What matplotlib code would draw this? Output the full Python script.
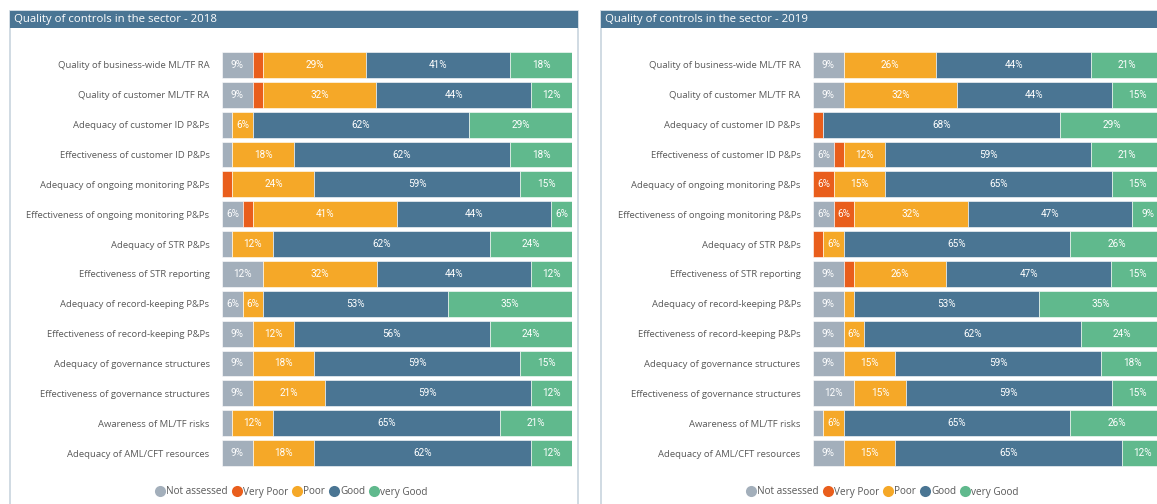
import matplotlib.pyplot as plt
from matplotlib.patches import Rectangle
from matplotlib.lines import Line2D

W, H = 1157, 504

categories = [
    "Quality of business-wide ML/TF RA",
    "Quality of customer ML/TF RA",
    "Adequacy of customer ID P&Ps",
    "Effectiveness of customer ID P&Ps",
    "Adequacy of ongoing monitoring P&Ps",
    "Effectiveness of ongoing monitoring P&Ps",
    "Adequacy of STR P&Ps",
    "Effectiveness of STR reporting",
    "Adequacy of record-keeping P&Ps",
    "Effectiveness of record-keeping P&Ps",
    "Adequacy of governance structures",
    "Effectiveness of governance structures",
    "Awareness of ML/TF risks",
    "Adequacy of AML/CFT resources",
]
levels = ["Not assessed", "Very Poor", "Poor", "Good", "very Good"]
colors = ["#A3AFBB", "#E95E1C", "#F5A828", "#4A7593", "#60B98D"]

# 2018 - percentages per level
na_2018 = [8.8, 8.8, 2.9, 2.9, 0, 5.9, 2.9, 11.8, 5.9, 8.8, 8.8, 8.8, 2.9, 8.8]
vp_2018 = [2.9, 2.9, 0, 0, 2.9, 2.9, 0, 0, 0, 0, 0, 0, 0, 0]
poor_2018 = [29.4, 32.4, 5.9, 17.6, 23.5, 41.2, 11.8, 32.4, 5.9, 11.8, 17.6, 20.6, 11.8, 17.6]
good_2018 = [41.2, 44.1, 61.8, 61.8, 58.8, 44.1, 61.8, 44.1, 52.9, 55.9, 58.8, 58.8, 64.7, 61.8]
vgood_2018 = [17.6, 11.8, 29.4, 17.6, 14.7, 5.9, 23.5, 11.8, 35.3, 23.5, 14.7, 11.8, 20.6, 11.8]

# 2019
na_2019 = [8.8, 8.8, 0, 5.9, 0, 5.9, 0, 8.8, 8.8, 8.8, 8.8, 11.8, 2.9, 8.8]
vp_2019 = [0, 0, 2.9, 2.9, 5.9, 5.9, 2.9, 2.9, 0, 0, 0, 0, 0, 0]
poor_2019 = [26.4, 32.4, 0, 11.8, 14.7, 32.4, 5.9, 26.4, 2.9, 5.9, 14.7, 14.7, 5.9, 14.7]
good_2019 = [44.1, 44.1, 67.6, 58.8, 64.7, 47.1, 64.7, 47.1, 52.9, 61.8, 58.8, 58.8, 64.7, 64.7]
vgood_2019 = [20.6, 14.7, 29.4, 20.6, 14.7, 8.8, 26.5, 14.7, 35.3, 23.5, 17.6, 14.7, 26.5, 11.8]

plt.rcParams['font.family'] = ['Open Sans', 'DejaVu Sans']

fig = plt.figure(figsize=(W / 100, H / 100), dpi=100)


def px(x, y, w, h):
    # pixel box (top-left origin) -> figure fraction
    return [x / W, 1 - (y + h) / H, w / W, h / H]


def panel(x0, title, series, bar_x):
    # frame + title bar
    fig.patches.append(Rectangle((x0 / W, -0.05), 568 / W, 1 - 11 / H + 0.05,
                                 transform=fig.transFigure, fill=False,
                                 edgecolor="#C8D4DE", lw=1.2))
    fig.patches.append(Rectangle((x0 / W, 1 - 28 / H), 568 / W, 17 / H,
                                 transform=fig.transFigure, facecolor="#4A7594",
                                 edgecolor="none"))
    fig.text((x0 + 4) / W, 1 - 19.5 / H, title, color="white", fontsize=8.2,
             va="center", ha="left")

    ax = fig.add_axes(px(bar_x, 50, 350, 418))
    n = len(categories)
    ypos = list(range(n))
    left = [0] * n
    for k in range(len(levels)):
        vals = series[k]
        tot = [sum(s[i] for s in series) for i in range(n)]
        w = [vals[i] / tot[i] * 100 for i in range(n)]
        ax.barh(ypos, w, left=left, height=0.87, color=colors[k],
                edgecolor="white", linewidth=0.4)
        for i in range(n):
            if vals[i] >= 5:
                ax.text(left[i] + w[i] / 2, i, f"{vals[i]:.0f}%", color="white",
                        fontsize=7.2, ha="center", va="center", family="Roboto")
        left = [left[i] + w[i] for i in range(n)]
    ax.set_xlim(0, 100)
    ax.set_ylim(n - 0.5, -0.5)
    ax.set_yticks(ypos)
    ax.set_yticklabels(categories, fontsize=6.8, color="#595959")
    ax.tick_params(axis="y", length=0, pad=9)
    ax.set_xticks([])
    for s in ax.spines.values():
        s.set_visible(False)
    ax.patch.set_alpha(0)

    handles = [Line2D([], [], marker="o", ls="none", markersize=8,
                      markerfacecolor=c, markeredgecolor="none") for c in colors]
    fig.legend(handles, levels, loc="center", ncol=5, frameon=False,
               bbox_to_anchor=((x0 + 281) / W, 1 - 492 / H),
               fontsize=7.2, labelcolor="#595959", handletextpad=0.0,
               columnspacing=0.3, handlelength=1.2)


panel(10, "Quality of controls in the sector - 2018",
      [na_2018, vp_2018, poor_2018, good_2018, vgood_2018], 222)
panel(601, "Quality of controls in the sector - 2019",
      [na_2019, vp_2019, poor_2019, good_2019, vgood_2019], 813)

plt.savefig("out.png", dpi=100)
